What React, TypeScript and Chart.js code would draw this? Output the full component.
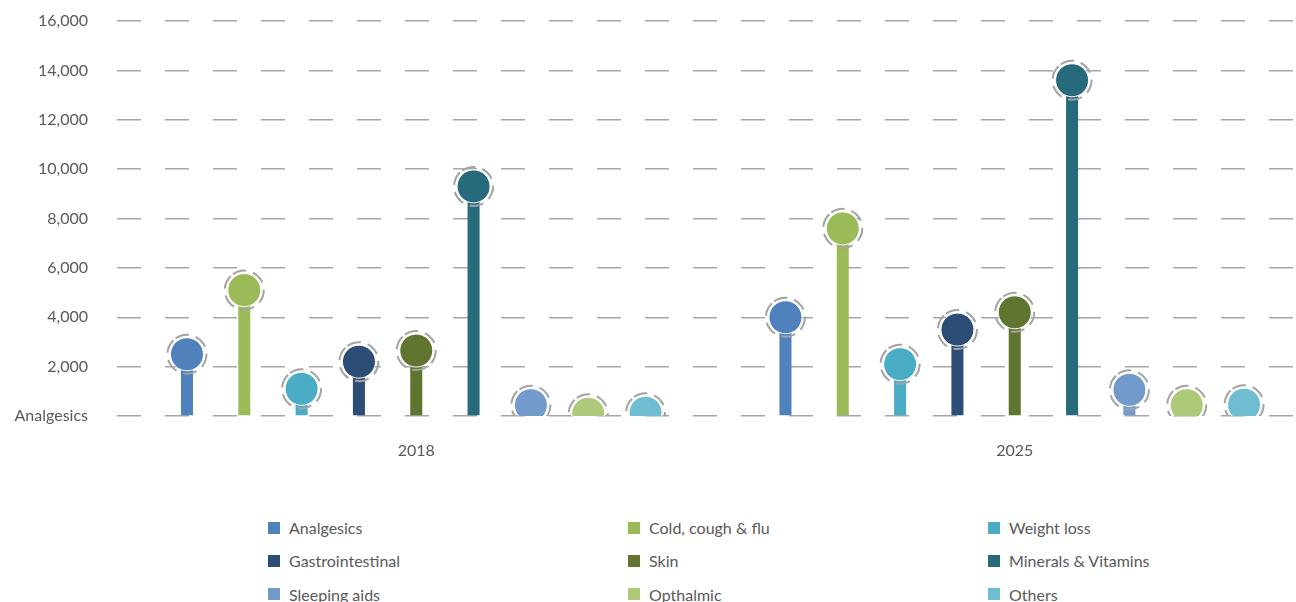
import React, { useEffect, useRef } from "react";
import { Chart, registerables } from "chart.js";

Chart.register(...registerables);

const categories = ["2018", "2025"];
const seriesNames = [
  "Analgesics",
  "Cold, cough & flu",
  "Weight loss",
  "Gastrointestinal",
  "Skin",
  "Minerals & Vitamins",
  "Sleeping aids",
  "Opthalmic",
  "Others",
];
const seriesColors = [
  "#4f81bd",
  "#9bbb59",
  "#4bacc6",
  "#2c4d75",
  "#5f7530",
  "#276a7c",
  "#729aca",
  "#afc97a",
  "#6fbdd1",
];
const analgesics = [2500, 4000];
const coldCoughFlu = [5100, 7600];
const weightLoss = [1100, 2100];
const gastrointestinal = [2200, 3500];
const skin = [2650, 4200];
const mineralsVitamins = [9300, 13600];
const sleepingAids = [440, 1060];
const opthalmic = [90, 440];
const others = [130, 460];
const seriesValues = [
  analgesics,
  coldCoughFlu,
  weightLoss,
  gastrointestinal,
  skin,
  mineralsVitamins,
  sleepingAids,
  opthalmic,
  others,
];
const yTicks = [0, 2000, 4000, 6000, 8000, 10000, 12000, 14000, 16000];
const zeroTickLabel = "Analgesics";

const FONT = "Lato, 'Noto Sans', sans-serif";
const TEXT = "#595959";

const lollipopPlugin = {
  id: "lollipop",
  afterDatasetsDraw(chart: any) {
    const { ctx, chartArea } = chart;
    ctx.save();
    ctx.beginPath();
    ctx.rect(
      chartArea.left,
      chartArea.top - 30,
      chartArea.right - chartArea.left,
      chartArea.bottom - chartArea.top + 30
    );
    ctx.clip();
    chart.data.datasets.forEach((ds: any, i: number) => {
      const meta = chart.getDatasetMeta(i);
      meta.data.forEach((el: any) => {
        const x = el.x;
        const y = el.y;
        ctx.beginPath();
        ctx.setLineDash([14, 7]);
        ctx.lineWidth = 2;
        ctx.strokeStyle = "#a3a3a3";
        const start = -Math.PI * 0.7;
        ctx.arc(x, y, 19.5, start, start + Math.PI * 2);
        ctx.stroke();
        ctx.setLineDash([]);
        ctx.beginPath();
        ctx.arc(x, y, 16.5, 0, Math.PI * 2);
        ctx.fillStyle = ds.backgroundColor;
        ctx.fill();
        ctx.lineWidth = 1;
        ctx.strokeStyle = "#ffffff";
        ctx.stroke();
      });
    });
    ctx.restore();
  },
};

export default function App() {
  const canvasRef = useRef<HTMLCanvasElement | null>(null);

  useEffect(() => {
    if (!canvasRef.current) return;
    const chart = new Chart(canvasRef.current, {
      type: "bar",
      data: {
        labels: categories,
        datasets: seriesNames.map((name, i) => ({
          label: name,
          data: seriesValues[i],
          backgroundColor: seriesColors[i],
          borderWidth: 0,
          categoryPercentage: 0.862,
          barPercentage: 0.21,
        })),
      },
      options: {
        responsive: false,
        maintainAspectRatio: false,
        animation: false,
        devicePixelRatio: 1,
        layout: { padding: { top: 21, right: 0, left: 0, bottom: 0 } },
        plugins: {
          legend: { display: false },
          tooltip: { enabled: false },
        },
        scales: {
          x: {
            grid: { display: false, drawTicks: false },
            border: { display: false },
            ticks: {
              color: TEXT,
              font: { family: FONT, size: 16 },
              padding: 25,
            },
            afterFit(scale: any) {
              scale.height = 64;
            },
          },
          y: {
            min: 0,
            max: 16000,
            afterBuildTicks(scale: any) {
              scale.ticks = yTicks.map((v) => ({ value: v }));
            },
            grid: {
              color: "#a6a6a6",
              lineWidth: 1.5,
              drawTicks: false,
            },
            border: { display: false, dash: [24, 24] },
            ticks: {
              color: TEXT,
              font: { family: FONT, size: 16 },
              padding: 29,
              callback: (v: any) =>
                Number(v) === 0 ? zeroTickLabel : Number(v).toLocaleString("en-US"),
            },
            afterFit(scale: any) {
              scale.width = 117;
              scale.paddingTop = 0;
              scale.paddingBottom = 0;
            },
          },
        },
      },
      plugins: [lollipopPlugin],
    });
    return () => chart.destroy();
  }, []);

  return (
    <div
      style={{
        position: "fixed",
        left: 0,
        top: 0,
        width: 1296,
        height: 602,
        overflow: "hidden",
        background: "#ffffff",
      }}
    >
      <div style={{ position: "absolute", left: 0, top: 0, width: 1314, height: 480 }}>
        <canvas ref={canvasRef} width={1314} height={480} />
      </div>
      {seriesNames.map((name, i) => (
        <div
          key={name}
          style={{
            position: "absolute",
            left: 268 + (i % 3) * 360,
            top: 517 + Math.floor(i / 3) * 33.3,
            height: 21,
            display: "flex",
            alignItems: "center",
            fontFamily: FONT,
            fontSize: 16,
            color: TEXT,
            whiteSpace: "nowrap",
          }}
        >
          <span
            style={{
              display: "inline-block",
              width: 12,
              height: 12,
              background: seriesColors[i],
              marginRight: 9,
            }}
          />
          <span>{name}</span>
        </div>
      ))}
    </div>
  );
}
